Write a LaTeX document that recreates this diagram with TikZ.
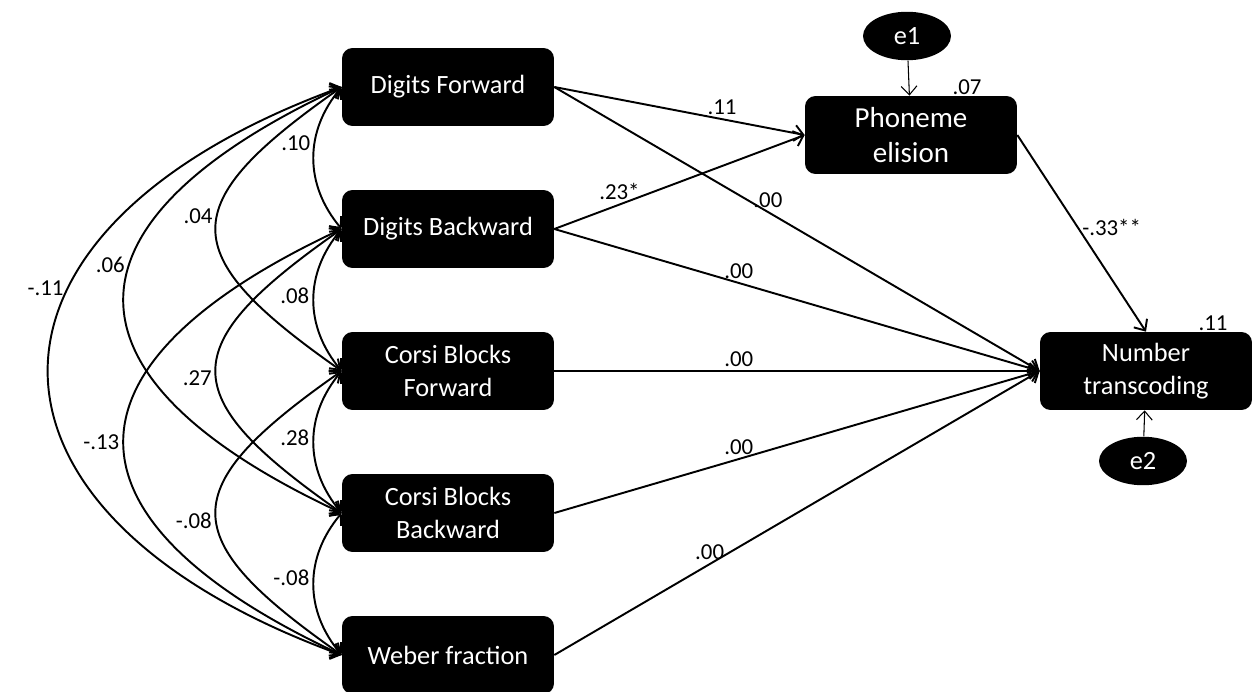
\documentclass[tikz,border=0pt]{standalone}
\usepackage{fontspec}
\setmainfont{Carlito}
\usetikzlibrary{arrows.meta,shapes.geometric}

\begin{document}
\begin{tikzpicture}[x=0.02cm, y=0.02cm,
  >={Straight Barb[length=5pt,width=9pt]},
  box/.style={fill=black, text=white, rounded corners=6pt, minimum width=4.24cm,
    minimum height=1.56cm, align=center, font=\fontsize{15}{19}\selectfont},
  err/.style={ellipse, fill=black, text=white, inner sep=0pt, minimum width=1.76cm,
    minimum height=0.97cm, font=\fontsize{15}{18}\selectfont},
  lbl/.style={font=\fontsize{13}{15}\selectfont, inner sep=2pt},
  fx/.style={->, line width=1.1pt},
  cov/.style={<->, line width=1.1pt}]
  \useasboundingbox (0,0) rectangle (1252,691);

  % observed variables
  \node[box] (df) at (448,604) {Digits Forward};
  \node[box] (db) at (448,462) {Digits Backward};
  \node[box] (cf) at (448,320) {Corsi Blocks\\Forward};
  \node[box] (cb) at (448,178) {Corsi Blocks\\Backward};
  \node[box] (wf) at (448,36)  {Weber fraction};
  \node[box, font=\fontsize{16.5}{20}\selectfont] (ph) at (911,556) {Phoneme\\elision};
  \node[box] (nt) at (1146,320) {Number\\transcoding};

  % residuals
  \node[err] (e1) at (907,655) {e1};
  \node[err] (e2) at (1143,230) {e2};
  \node[lbl] (r1) at (967,604) {.07};
  \node[lbl] (r2) at (1213,368) {.11};
  \path[->, line width=0.6pt]
  (e1) edge (ph)
  (e2) edge (nt);

  % paths
  \path[fx]
  (df.east) edge node [lbl, above, pos=.67] {.11} (ph.west)
            edge node [lbl, above, pos=.44] {.00} (nt.west)
  (db.east) edge node [lbl, above, pos=.26] {.23*} (ph.west)
            edge node [lbl, above, pos=.38] {.00} (nt.west)
  (cf.east) edge node [lbl, above, pos=.38] {.00} (nt.west)
  (cb.east) edge node [lbl, above, pos=.38] {.00} (nt.west)
  (wf.east) edge node [lbl, above, pos=.32] {.00} (nt.west)
  (ph.east) edge node [lbl, right, pos=.47] {-.33**} (nt.north);

  % covariances
  \path[cov]
  (df.west) edge [out=230, in=130, looseness=1.05] node [lbl, left, pos=.4]  {.10} (db.west)
  (db.west) edge [out=230, in=130, looseness=1.05] node [lbl, left, pos=.47] {.08} (cf.west)
  (cf.west) edge [out=230, in=130, looseness=1.05] node [lbl, left, pos=.47] {.28} (cb.west)
  (cb.west) edge [out=230, in=130, looseness=1.05] node [lbl, left, pos=.46] {-.08} (wf.west)
  (df.west) edge [out=215, in=145, looseness=1.85] node [lbl, left, pos=.45] {.04} (cf.west)
  (db.west) edge [out=215, in=145, looseness=1.85] node [lbl, left, pos=.53] {.27} (cb.west)
  (cf.west) edge [out=215, in=145, looseness=1.85] node [lbl, left, pos=.53] {-.08} (wf.west)
  (df.west) edge [out=205, in=155, looseness=1.93] node [lbl, left, pos=.42] {.06} (cb.west)
  (db.west) edge [out=205, in=155, looseness=1.93] node [lbl, left, pos=.5]  {-.13} (wf.west)
  (df.west) edge [out=200, in=160, looseness=1.88] node [lbl, left, pos=.37] {-.11} (wf.west);
\end{tikzpicture}
\end{document}
